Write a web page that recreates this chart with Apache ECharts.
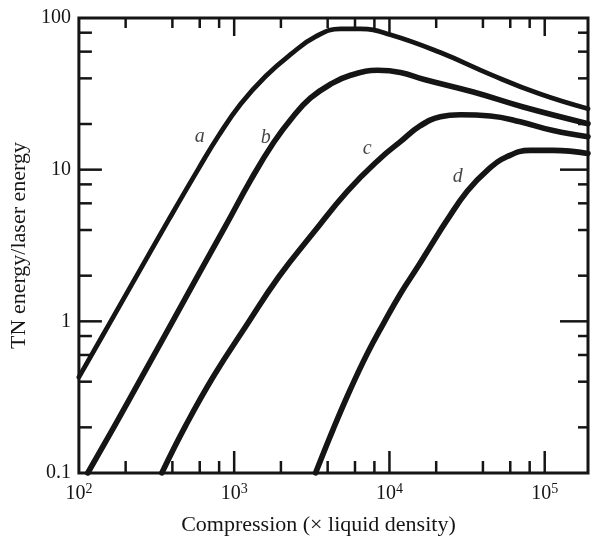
<!DOCTYPE html>
<html>
<head>
<meta charset="utf-8">
<script src="https://cdn.jsdelivr.net/npm/echarts@6/dist/echarts.min.js"></script>
<style>html,body{margin:0;padding:0;background:#fff;}#c{width:593px;height:541px;}</style>
</head>
<body>
<div id="c"></div>
<script>
// ---- data ----
const curveA = [[100,0.429],[156,0.952],[243,2.11],[379,4.68],[591,10.2],[795,16.8],[1101,27.1],[1594,41.3],[2308,57.5],[3343,75.3],[4842,84.9],[6508,84.9],[10150,77.6],[21280,59.2],[44620,42.5],[93540,31.5],[190000,25.2]];
const curveB = [[114,0.1],[173,0.212],[258,0.442],[391,0.952],[591,2.05],[882,4.27],[1277,8.53],[1795,15.1],[2413,22.6],[3105,29.7],[4173,36.6],[5613,41.9],[8373,45.2],[11770,43.8],[16540,39.5],[34700,32.5],[72720,25.9],[190000,20.1]];
const curveC = [[342,0.1],[488,0.206],[738,0.436],[1186,0.924],[1933,1.96],[3245,3.85],[5370,7.23],[8752,11.9],[11770,15.3],[15830,19.5],[21280,22.3],[28620,23.0],[44620,22.6],[69570,20.7],[113400,18.1],[190000,16.5]];
const curveD = [[3343,0.1],[4364,0.197],[5613,0.358],[7218,0.616],[9149,0.966],[11770,1.52],[15140,2.27],[18350,3.12],[23600,4.68],[31750,7.23],[42670,9.91],[57390,12.2],[80690,13.4],[113400,13.4],[190000,12.8]];
const curveNames = ['a','b','c','d'];
const curveLabelX = [600, 1600, 7200, 27500];
const curveLabelY = [16.5, 16.2, 13.8, 9.0];
const xMajorTicks = [1000, 10000, 100000];
const xMinorTicks = [200,400,600,800,2000,4000,6000,8000,20000,40000,60000,80000];
const yMajorTicks = [1, 10];
const yMinorTicks = [0.2,0.4,0.6,0.8,2,4,6,8,20,40,60,80];
const yTickLabels = {'-1':'0.1','0':'1','1':'10','2':'100'};
const xMin = 100, xMax = 190000, yMin = 0.1, yMax = 100;

const chart = echarts.init(document.getElementById('c'), null, {renderer:'canvas'});
const ink = '#151515';
const serif = '"Liberation Serif","DejaVu Serif",serif';

function tickSeries(points, dx, dy, len) {
  return {
    type:'custom', coordinateSystem:'cartesian2d', silent:true, clip:false, z:6,
    data: points,
    renderItem: (params, api) => {
      const p = api.coord([api.value(0), api.value(1)]);
      return {type:'line', shape:{x1:p[0], y1:p[1], x2:p[0]+dx*len, y2:p[1]+dy*len},
              style:{stroke:ink, lineWidth:2.5}};
    }
  };
}
function curve(data, w) {
  return {type:'line', data, smooth:0.45, showSymbol:false, symbol:'none', silent:true,
          lineStyle:{color:ink, width:w, cap:'round', join:'round'}, z:4};
}

const series = [
  curve(curveA, 4.8), curve(curveB, 5.6), curve(curveC, 5.6), curve(curveD, 5.6),
  tickSeries(xMinorTicks.map(v=>[v,yMin]), 0, -1, 12),
  tickSeries(xMajorTicks.map(v=>[v,yMin]), 0, -1, 22),
  tickSeries(xMinorTicks.map(v=>[v,yMax]), 0, 1, 10),
  tickSeries(xMajorTicks.map(v=>[v,yMax]), 0, 1, 18),
  tickSeries(yMinorTicks.map(v=>[xMin,v]), 1, 0, 13),
  tickSeries(yMajorTicks.map(v=>[xMin,v]), 1, 0, 23),
  tickSeries(yMinorTicks.map(v=>[xMax,v]), -1, 0, 10),
  tickSeries(yMajorTicks.map(v=>[xMax,v]), -1, 0, 28),
  {
    type:'scatter', symbolSize:0, silent:true, z:7,
    data: curveNames.map((n,i)=>({value:[curveLabelX[i], curveLabelY[i]], name:n})),
    label:{show:true, position:'inside', formatter:p=>p.name, color:ink,
           fontFamily:serif, fontStyle:'italic', fontSize:20}
  }
];

chart.setOption({
  backgroundColor:'#fff',
  animation:false,
  grid:{left:78, top:18, width:510, height:460, show:true, borderColor:ink, borderWidth:3, backgroundColor:'transparent'},
  xAxis:{
    type:'log', logBase:10, min:xMin, max:xMax,
    axisLine:{show:false}, axisTick:{show:false}, splitLine:{show:false},
    name:'Compression (\u00d7 liquid density)', nameLocation:'middle', nameGap:41,
    nameTextStyle:{fontFamily:serif, fontSize:22, color:ink, padding:[0,30,0,0]},
    axisLabel:{
      margin:9, color:ink, showMinLabel:true, showMaxLabel:false,
      formatter:(v)=>{ const l=Math.log10(v), e=Math.round(l); if (Math.abs(l-e)>1e-6) return ''; return '{b|10}{s|'+e+'}'; },
      rich:{ b:{fontFamily:serif, fontSize:20, color:ink, lineHeight:22, verticalAlign:'bottom'},
             s:{fontFamily:serif, fontSize:14, color:ink, lineHeight:22, verticalAlign:'top'} }
    }
  },
  yAxis:{
    type:'log', logBase:10, min:yMin, max:yMax,
    axisLine:{show:false}, axisTick:{show:false}, splitLine:{show:false},
    name:'TN energy/laser energy', nameLocation:'middle', nameGap:45, nameRotate:90,
    nameTextStyle:{fontFamily:serif, fontSize:22, color:ink},
    axisLabel:{
      margin:8, color:ink, fontFamily:serif, fontSize:20, showMinLabel:true, showMaxLabel:true,
      formatter:(v)=>{ const l=Math.log10(v), e=Math.round(l); if (Math.abs(l-e)>1e-6) return ''; return yTickLabels[String(e)]; }
    }
  },
  series
});
</script>
</body>
</html>
